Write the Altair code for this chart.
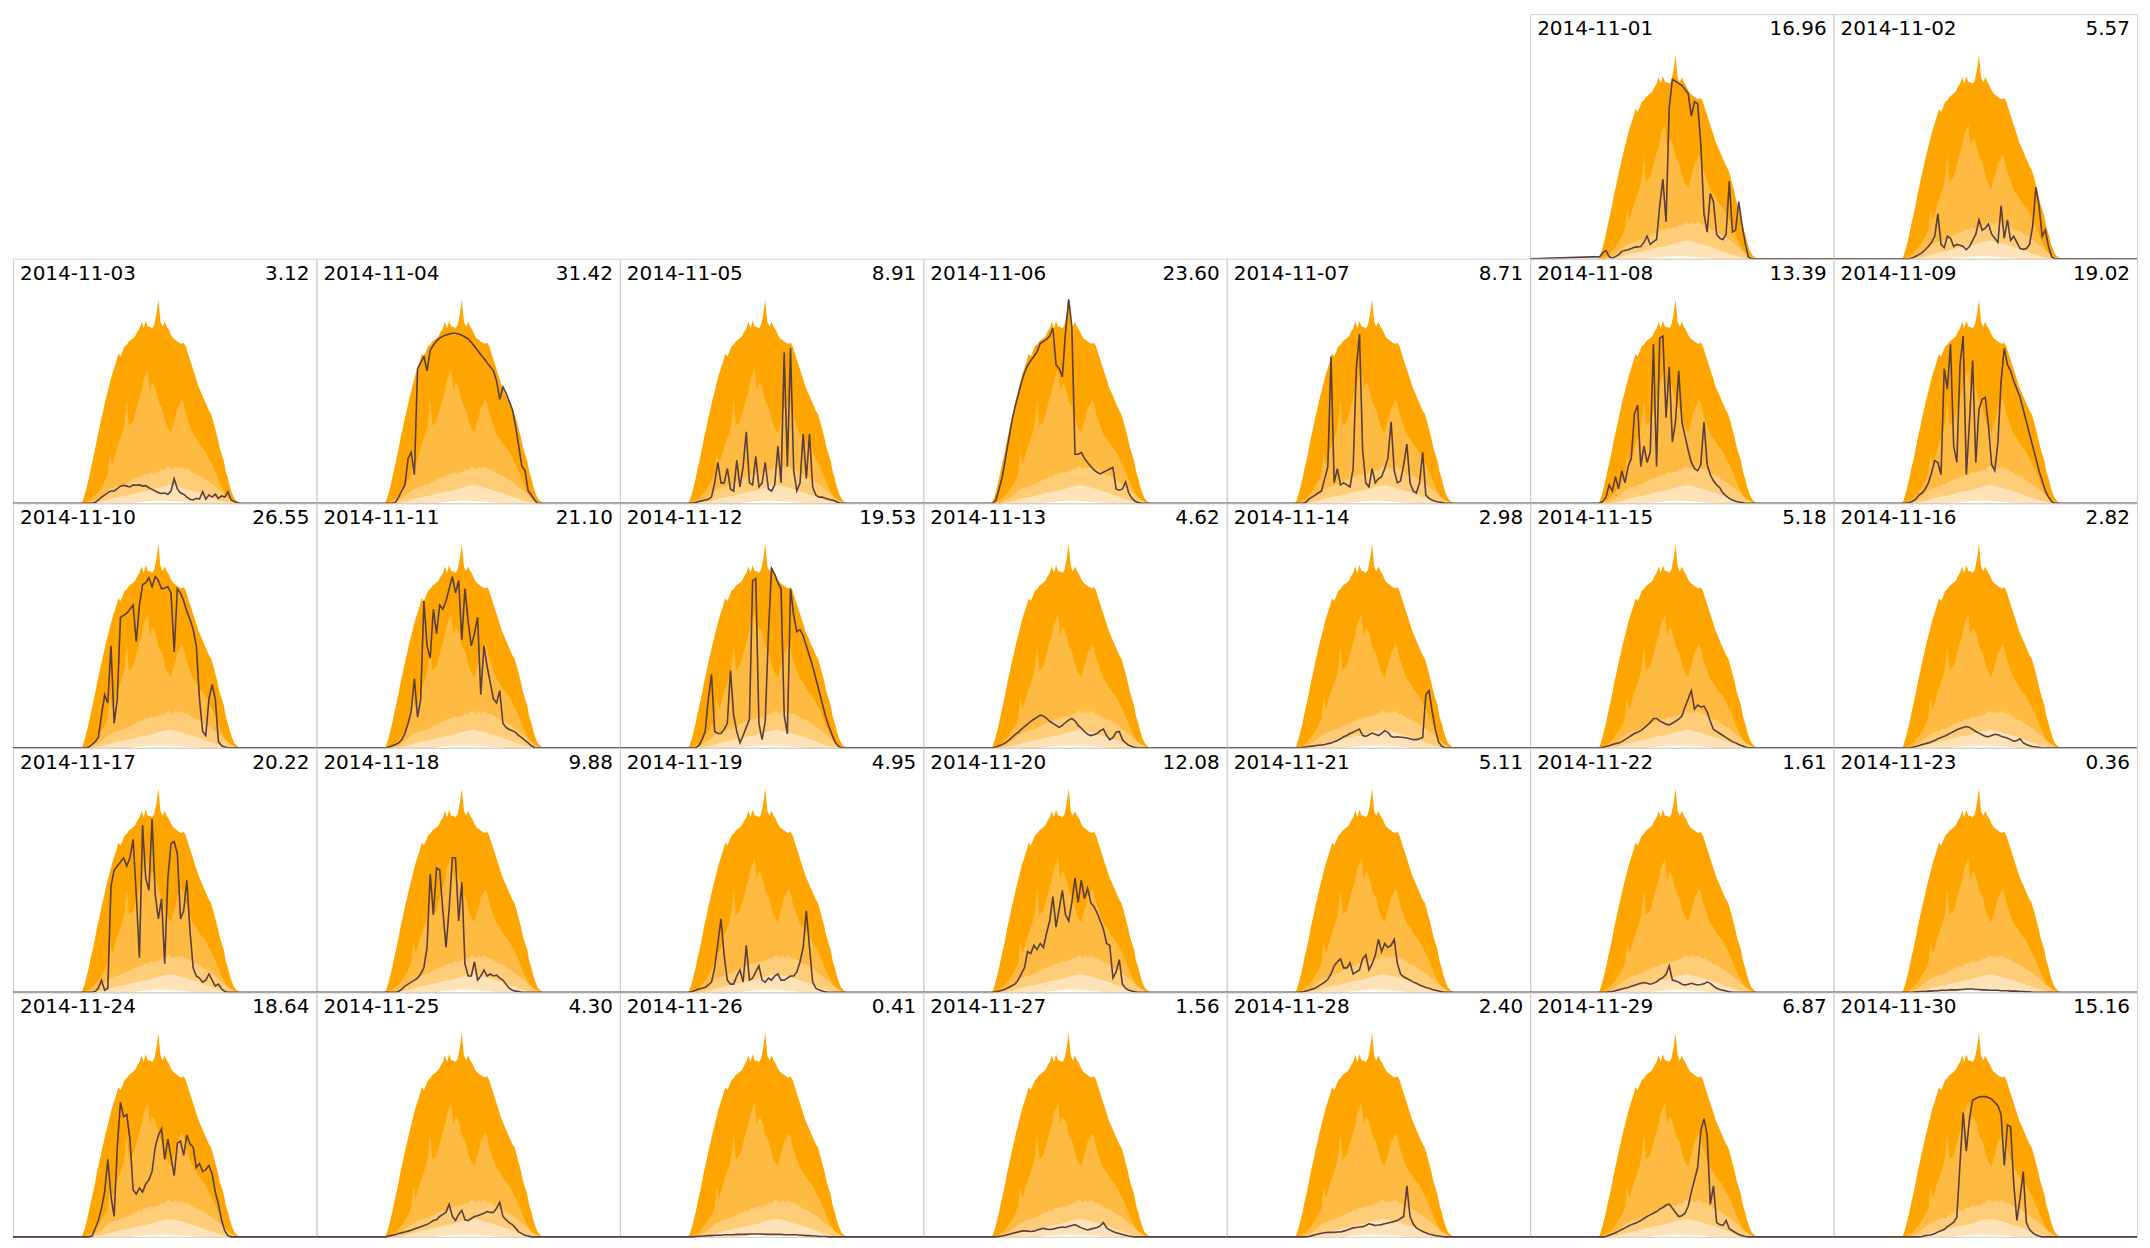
import numpy as np
import pandas as pd
import altair as alt

# ---------------- labels ----------------
DATES = ["2014-11-%02d" % d for d in range(1, 31)]
TOTALS = [16.96, 5.57, 3.12, 31.42, 8.91, 23.60, 8.71, 13.39, 19.02, 26.55,
          21.10, 19.53, 4.62, 2.98, 5.18, 2.82, 20.22, 9.88, 4.95, 12.08,
          5.11, 1.61, 0.36, 18.64, 4.30, 0.41, 1.56, 2.40, 6.87, 15.16]

# ---------------- envelope (kW, every 10 min from 05:00) ----------------
ENV_START = 5.0
ENV_STEP = 1.0 / 6.0
ENV_MAX = [0, 0, 0, 0.04, 0.2, 0.4,
           0.61, 0.87, 1.09, 1.34, 1.62, 1.84,
           2.1, 2.31, 2.55, 2.75, 2.96, 3.16,
           3.32, 3.48, 3.67, 3.6, 3.72, 3.85,
           3.89, 3.97, 4.01, 4.05, 4.1, 4.21,
           4.29, 4.45, 4.29, 4.48, 4.33, 4.33,
           4.29, 4.37, 4.62, 5.0, 4.45, 4.33,
           4.45, 4.33, 4.25, 4.13, 4.05, 4.01,
           3.97, 3.93, 3.91, 3.94, 3.85, 3.68,
           3.52, 3.36, 3.2, 3.04, 2.87, 2.75,
           2.63, 2.51, 2.39, 2.27, 2.19, 2.02,
           1.82, 1.62, 1.38, 1.21, 1.05, 0.77,
           0.61, 0.4, 0.24, 0.12, 0.06, 0.02,
           0, 0, 0]
ENV_Q90 = [0, 0, 0, 0, 0.02, 0.04,
           0.07, 0.1, 0.14, 0.2, 0.26, 0.33,
           0.42, 0.5, 0.6, 0.72, 1.25, 0.95,
           1.1, 1.3, 1.45, 1.6, 1.75, 2.0,
           2.55, 1.9, 1.95, 2.0, 2.2, 2.4,
           2.6, 2.75, 3.05, 3.15, 3.3, 2.75,
           2.95, 2.9, 2.75, 2.5, 2.4, 2.3,
           2.05, 1.9, 1.8, 1.72, 1.95, 2.1,
           2.35, 2.4, 2.55, 2.45, 2.2, 2.05,
           1.9, 1.75, 1.65, 1.6, 1.5, 1.42,
           1.35, 1.3, 1.2, 1.1, 1.0, 0.9,
           0.78, 0.65, 0.52, 0.4, 0.3, 0.2,
           0.12, 0.06, 0.02, 0, 0, 0,
           0, 0, 0]
ENV_Q75 = [0, 0, 0, 0, 0, 0,
           0.01, 0.02, 0.04, 0.07, 0.1, 0.14,
           0.18, 0.22, 0.26, 0.3, 0.34, 0.36,
           0.38, 0.42, 0.4, 0.44, 0.47, 0.45,
           0.5, 0.52, 0.55, 0.58, 0.6, 0.62,
           0.66, 0.63, 0.7, 0.72, 0.7, 0.74,
           0.76, 0.73, 0.78, 0.76, 0.8, 0.83,
           0.81, 0.88, 0.92, 0.86, 0.84, 0.9,
           0.85, 0.88, 0.9, 0.86, 0.82, 0.84,
           0.78, 0.76, 0.72, 0.7, 0.68, 0.66,
           0.62, 0.58, 0.56, 0.52, 0.48, 0.45,
           0.4, 0.36, 0.32, 0.28, 0.23, 0.18,
           0.14, 0.1, 0.07, 0.04, 0.02, 0.01,
           0, 0, 0]
ENV_Q50 = [0, 0, 0, 0, 0, 0,
           0, 0, 0.01, 0.01, 0.02, 0.03,
           0.04, 0.05, 0.07, 0.08, 0.1, 0.12,
           0.13, 0.14, 0.15, 0.16, 0.18, 0.17,
           0.19, 0.21, 0.22, 0.23, 0.24, 0.26,
           0.27, 0.28, 0.3, 0.29, 0.31, 0.32,
           0.33, 0.35, 0.37, 0.38, 0.4, 0.41,
           0.42, 0.43, 0.44, 0.44, 0.43, 0.42,
           0.4, 0.39, 0.38, 0.36, 0.35, 0.33,
           0.31, 0.3, 0.28, 0.27, 0.25, 0.23,
           0.21, 0.19, 0.17, 0.16, 0.14, 0.12,
           0.1, 0.08, 0.07, 0.05, 0.04, 0.03,
           0.02, 0.01, 0, 0, 0, 0,
           0, 0, 0]
ENV_Q25 = [0, 0, 0, 0, 0, 0,
           0, 0, 0, 0, 0, 0,
           0, 0, 0, 0, 0, 0,
           0, 0, 0, 0, 0, 0,
           0, 0, 0, 0.01, 0.02, 0.02,
           0.03, 0.03, 0.04, 0.04, 0.05, 0.05,
           0.05, 0.06, 0.06, 0.06, 0.06, 0.06,
           0.06, 0.06, 0.05, 0.05, 0.05, 0.05,
           0.04, 0.04, 0.04, 0.03, 0.03, 0.02,
           0.02, 0.01, 0.01, 0, 0, 0,
           0, 0, 0, 0, 0, 0,
           0, 0, 0, 0, 0, 0,
           0, 0, 0, 0, 0, 0,
           0, 0, 0]

# ---------------- daily production (kW, every 15 min, 05:30 .. 18:00) ----------------
LINE_START = 5.5
LINE_STEP = 0.25
D01 = [0.05, 0.15,
       0.2, 0.05, 0.02, 0.05, 0.1, 0.18, 0.2, 0.22, 0.25, 0.28, 0.29, 0.3,
       0.4, 0.55, 0.35, 0.42, 0.47, 1.3, 1.95, 0.9, 3.7, 4.4, 4.35, 4.3,
       4.25, 4.15, 4.05, 3.5, 3.85, 3.8, 2.8, 1.1, 0.65, 1.6, 1.4, 0.6,
       0.5, 0.47, 0.6, 1.9, 0.65, 0.7, 1.4, 0.85, 0.4, 0.05, 0, 0,
       0]
D02 = [0, 0,
       0, 0.02, 0.06, 0.1, 0.15, 0.22, 0.3, 0.4, 0.55, 1.1, 0.35, 0.27,
       0.55, 0.5, 0.3, 0.35, 0.33, 0.3, 0.22, 0.3, 0.45, 0.6, 0.95, 0.7,
       0.75, 0.85, 0.6, 0.5, 0.4, 1.3, 0.5, 0.95, 0.45, 0.55, 0.4, 0.25,
       0.23, 0.25, 0.35, 0.8, 1.75, 1.3, 0.55, 0.7, 0.3, 0.05, 0, 0,
       0]
D03 = [0, 0,
       0, 0, 0.02, 0.08, 0.15, 0.2, 0.26, 0.3, 0.3, 0.36, 0.42, 0.44,
       0.42, 0.4, 0.45, 0.44, 0.45, 0.42, 0.43, 0.38, 0.34, 0.3, 0.26, 0.24,
       0.25, 0.22, 0.3, 0.6, 0.35, 0.25, 0.22, 0.15, 0.1, 0.08, 0.12, 0.1,
       0.28, 0.1, 0.2, 0.15, 0.22, 0.12, 0.18, 0.15, 0.28, 0.08, 0.04, 0.01,
       0]
D04 = [0, 0,
       0, 0.02, 0.15, 0.3, 0.45, 1.1, 1.25, 0.7, 3.3, 3.45, 3.6, 3.25,
       3.75, 3.88, 3.98, 4.05, 4.1, 4.13, 4.15, 4.17, 4.17, 4.15, 4.12, 4.08,
       4.03, 3.95, 3.85, 3.75, 3.65, 3.55, 3.45, 3.35, 3.25, 3.0, 2.55, 2.85,
       2.7, 2.5, 2.3, 1.9, 1.4, 0.9, 0.8, 0.3, 0.2, 0.08, 0, 0,
       0]
D05 = [0, 0,
       0.02, 0.04, 0.06, 0.08, 0.1, 0.15, 0.5, 1.0, 0.5, 0.5, 0.85, 0.35,
       0.3, 1.05, 0.4, 0.9, 1.75, 0.5, 0.45, 1.15, 0.4, 0.5, 1.0, 0.35,
       0.3, 0.45, 1.4, 0.5, 3.7, 0.9, 3.8, 0.8, 0.3, 0.5, 1.7, 0.6,
       1.7, 0.4, 0.2, 0.15, 0.15, 0.12, 0.1, 0.08, 0.06, 0.02, 0, 0,
       0]
D06 = [0, 0.08,
       0.35, 0.65, 1.1, 1.55, 2.0, 2.35, 2.65, 2.95, 3.2, 3.38, 3.5, 3.6,
       3.72, 3.92, 3.97, 4.02, 4.1, 4.3, 3.4, 3.3, 3.1, 4.2, 5.0, 4.35,
       1.2, 1.2, 1.25, 1.1, 1.0, 0.9, 0.82, 0.76, 0.72, 0.76, 0.8, 0.84,
       0.88, 0.35, 0.32, 0.35, 0.52, 0.25, 0.12, 0.05, 0.02, 0, 0, 0,
       0]
D07 = [0, 0,
       0, 0.02, 0.1, 0.15, 0.2, 0.25, 0.3, 0.6, 0.9, 3.6, 0.5, 0.85,
       0.45, 0.5, 0.45, 0.4, 0.85, 3.3, 4.15, 1.3, 0.5, 0.4, 0.85, 0.5,
       0.6, 0.65, 0.85, 1.1, 2.0, 0.8, 0.5, 0.55, 0.95, 1.45, 0.5, 0.3,
       0.25, 0.5, 1.25, 0.2, 0.12, 0.08, 0.05, 0.03, 0.02, 0, 0, 0,
       0]
D08 = [0, 0.05,
       0.15, 0.45, 0.3, 0.65, 0.35, 0.8, 0.5, 0.9, 1.1, 2.2, 2.4, 0.9,
       1.4, 1.0, 1.25, 3.9, 0.9, 4.05, 4.1, 2.1, 3.35, 1.5, 2.0, 3.25,
       2.0, 1.65, 1.3, 1.0, 0.85, 0.8, 0.95, 2.0, 0.95, 0.7, 0.55, 0.45,
       0.38, 0.25, 0.18, 0.12, 0.08, 0.05, 0.03, 0.02, 0, 0, 0, 0,
       0]
D09 = [0, 0,
       0.02, 0.05, 0.1, 0.2, 0.25, 0.35, 0.5, 0.75, 1.05, 1.0, 0.7, 3.3,
       2.8, 3.9, 1.4, 1.0, 3.4, 4.1, 0.7, 2.0, 3.5, 1.0, 2.3, 2.55,
       2.6, 1.9, 0.95, 0.8, 1.5, 3.0, 3.8, 3.4, 3.25, 3.0, 2.8, 2.6,
       2.3, 2.0, 1.7, 1.4, 1.1, 0.8, 0.55, 0.3, 0.15, 0.04, 0, 0,
       0]
D10 = [0, 0,
       0.02, 0.08, 0.15, 0.25, 0.8, 1.3, 1.1, 2.5, 0.6, 1.2, 3.2, 3.25,
       3.3, 3.4, 3.5, 2.6, 3.5, 4.0, 4.05, 4.17, 3.95, 4.2, 4.1, 3.9,
       3.92, 3.95, 3.8, 2.35, 3.9, 3.8, 3.6, 3.35, 3.15, 2.9, 2.5, 1.2,
       0.4, 0.3, 1.2, 1.55, 1.2, 0.15, 0.05, 0.02, 0, 0, 0, 0,
       0]
D11 = [0, 0.02,
       0.05, 0.08, 0.12, 0.2, 0.35, 0.6, 0.9, 1.7, 0.75, 1.2, 3.6, 2.5,
       2.2, 3.4, 2.8, 3.5, 3.4, 3.6, 3.9, 4.2, 3.8, 4.1, 2.65, 3.9,
       3.1, 2.5, 2.8, 3.2, 1.3, 2.5, 2.0, 1.6, 1.2, 1.1, 1.4, 0.6,
       0.5, 0.45, 0.42, 0.38, 0.3, 0.25, 0.18, 0.12, 0.05, 0, 0, 0,
       0]
D12 = [0, 0,
       0, 0.05, 0.2, 0.4, 1.2, 1.8, 0.4, 0.35, 0.35, 0.45, 0.6, 1.9,
       0.8, 0.4, 0.12, 0.3, 0.5, 0.7, 4.1, 4.15, 0.6, 0.2, 0.65, 2.8,
       4.4, 4.25, 4.05, 3.9, 0.8, 0.34, 3.9, 3.25, 2.85, 2.9, 2.75, 2.5,
       2.25, 2.0, 1.7, 1.4, 1.1, 0.8, 0.55, 0.35, 0.15, 0.05, 0, 0,
       0]
D13 = [0, 0.02,
       0.05, 0.08, 0.12, 0.18, 0.25, 0.32, 0.38, 0.45, 0.52, 0.58, 0.65, 0.7,
       0.75, 0.8, 0.78, 0.72, 0.65, 0.6, 0.55, 0.5, 0.55, 0.62, 0.68, 0.72,
       0.66, 0.55, 0.48, 0.4, 0.33, 0.3, 0.32, 0.35, 0.42, 0.46, 0.3, 0.2,
       0.25, 0.38, 0.4, 0.2, 0.12, 0.06, 0.03, 0.01, 0, 0, 0, 0,
       0]
D14 = [0, 0,
       0.01, 0.02, 0.03, 0.04, 0.05, 0.06, 0.07, 0.08, 0.1, 0.12, 0.15, 0.18,
       0.22, 0.27, 0.3, 0.35, 0.38, 0.42, 0.46, 0.3, 0.28, 0.32, 0.36, 0.33,
       0.3, 0.35, 0.42, 0.38, 0.28, 0.26, 0.27, 0.26, 0.25, 0.24, 0.22, 0.2,
       0.2, 0.22, 0.25, 1.3, 1.4, 0.9, 0.45, 0.15, 0.04, 0, 0, 0,
       0]
D15 = [0, 0.01,
       0.03, 0.05, 0.08, 0.1, 0.12, 0.15, 0.2, 0.25, 0.3, 0.35, 0.38, 0.42,
       0.48, 0.55, 0.62, 0.72, 0.72, 0.66, 0.62, 0.58, 0.56, 0.6, 0.65, 0.7,
       0.78, 1.0, 1.2, 1.4, 0.95, 1.05, 1.0, 1.02, 0.88, 0.65, 0.45, 0.4,
       0.35, 0.3, 0.25, 0.2, 0.15, 0.12, 0.08, 0.05, 0.02, 0, 0, 0,
       0]
D16 = [0, 0,
       0, 0.01, 0.03, 0.05, 0.08, 0.1, 0.12, 0.15, 0.18, 0.22, 0.25, 0.28,
       0.32, 0.36, 0.4, 0.44, 0.47, 0.5, 0.52, 0.5, 0.45, 0.4, 0.36, 0.32,
       0.28, 0.27, 0.3, 0.33, 0.32, 0.28, 0.26, 0.24, 0.2, 0.16, 0.18, 0.22,
       0.12, 0.08, 0.05, 0.03, 0.02, 0.01, 0, 0, 0, 0, 0, 0,
       0]
D17 = [0, 0,
       0, 0, 0.02, 0.1, 0.3, 0.05, 0.1, 2.6, 3.0, 3.1, 3.2, 3.3,
       3.1, 3.3, 3.75, 2.4, 0.85, 4.1, 2.8, 2.5, 4.25, 2.4, 1.8, 2.3,
       0.7, 2.8, 3.65, 3.7, 3.4, 1.8, 2.0, 2.75, 1.5, 0.6, 0.4, 0.35,
       0.25, 0.3, 0.45, 0.3, 0.15, 0.2, 0.08, 0.02, 0, 0, 0, 0,
       0]
D18 = [0, 0,
       0, 0, 0.02, 0.08, 0.15, 0.2, 0.25, 0.3, 0.35, 0.45, 0.6, 1.1,
       2.9, 1.9, 3.05, 3.0, 2.0, 1.1, 2.05, 3.3, 3.3, 1.75, 2.7, 0.7,
       0.4, 0.4, 0.75, 0.3, 0.4, 0.55, 0.4, 0.45, 0.4, 0.42, 0.35, 0.3,
       0.2, 0.1, 0.05, 0.03, 0.02, 0, 0, 0, 0, 0, 0, 0,
       0]
D19 = [0, 0.02,
       0.05, 0.08, 0.1, 0.12, 0.18, 0.25, 0.6, 1.2, 1.8, 0.9, 0.3, 0.2,
       0.2, 0.4, 0.55, 0.25, 1.15, 0.3, 0.35, 0.5, 0.65, 0.3, 0.25, 0.35,
       0.3, 0.4, 0.45, 0.3, 0.3, 0.35, 0.4, 0.4, 0.5, 0.75, 1.1, 2.0,
       1.1, 0.25, 0.1, 0.06, 0.03, 0.01, 0, 0, 0, 0, 0, 0,
       0]
D20 = [0, 0.01,
       0.03, 0.05, 0.08, 0.12, 0.16, 0.2, 0.3, 0.45, 0.6, 1.0, 0.95, 1.15,
       1.05, 1.2, 1.1, 1.45, 1.75, 2.35, 1.6, 2.05, 2.5, 1.9, 1.75, 2.2,
       2.8, 2.2, 2.75, 2.3, 2.55, 2.2, 2.1, 1.95, 1.75, 1.55, 1.2, 1.15,
       0.35, 0.5, 0.8, 0.2, 0.1, 0.05, 0.03, 0.01, 0, 0, 0, 0,
       0]
D21 = [0, 0,
       0.01, 0.03, 0.05, 0.08, 0.1, 0.15, 0.2, 0.25, 0.32, 0.45, 0.65, 0.75,
       0.82, 0.6, 0.6, 0.72, 0.45, 0.5, 0.55, 0.82, 0.92, 0.55, 0.7, 0.9,
       1.3, 1.0, 1.2, 1.1, 1.15, 1.3, 0.7, 0.45, 0.38, 0.34, 0.3, 0.25,
       0.22, 0.18, 0.15, 0.12, 0.1, 0.07, 0.05, 0.03, 0.01, 0, 0, 0,
       0]
D22 = [0, 0,
       0, 0.01, 0.02, 0.04, 0.06, 0.08, 0.1, 0.12, 0.15, 0.17, 0.2, 0.22,
       0.24, 0.22, 0.2, 0.22, 0.26, 0.32, 0.36, 0.44, 0.65, 0.3, 0.28, 0.25,
       0.2, 0.18, 0.2, 0.22, 0.2, 0.18, 0.19, 0.21, 0.25, 0.22, 0.15, 0.1,
       0.07, 0.05, 0.03, 0.01, 0, 0, 0, 0, 0, 0, 0, 0,
       0]
D23 = [0, 0,
       0, 0, 0.01, 0.01, 0.02, 0.02, 0.03, 0.03, 0.04, 0.04, 0.05, 0.05,
       0.05, 0.06, 0.06, 0.06, 0.07, 0.07, 0.08, 0.08, 0.08, 0.07, 0.07, 0.06,
       0.06, 0.05, 0.05, 0.05, 0.05, 0.04, 0.04, 0.04, 0.03, 0.03, 0.03, 0.02,
       0.02, 0.01, 0.01, 0, 0, 0, 0, 0, 0, 0, 0, 0,
       0]
D24 = [0, 0,
       0, 0.02, 0.2, 0.4, 0.7, 1.1, 1.9, 1.0, 0.5, 2.2, 3.3, 2.95,
       3.0, 2.4, 1.15, 1.05, 1.2, 1.1, 1.3, 1.4, 1.6, 2.2, 2.5, 2.65,
       1.9, 2.4, 1.95, 1.5, 2.3, 2.35, 2.0, 2.5, 2.28, 2.2, 1.7, 1.8,
       1.6, 1.65, 1.75, 1.55, 1.1, 0.8, 0.4, 0.15, 0.03, 0, 0, 0,
       0]
D25 = [0, 0.02,
       0.04, 0.06, 0.08, 0.1, 0.12, 0.14, 0.16, 0.2, 0.22, 0.25, 0.28, 0.3,
       0.35, 0.4, 0.42, 0.5, 0.55, 0.6, 0.8, 0.5, 0.4, 0.55, 0.65, 0.42,
       0.4, 0.45, 0.5, 0.52, 0.55, 0.58, 0.62, 0.6, 0.6, 0.7, 0.85, 0.5,
       0.42, 0.35, 0.3, 0.22, 0.12, 0.08, 0.04, 0.02, 0, 0, 0, 0,
       0]
D26 = [0, 0,
       0.01, 0.01, 0.02, 0.02, 0.03, 0.03, 0.04, 0.04, 0.04, 0.05, 0.05, 0.05,
       0.05, 0.06, 0.06, 0.06, 0.06, 0.07, 0.07, 0.07, 0.07, 0.07, 0.06, 0.06,
       0.06, 0.06, 0.06, 0.06, 0.05, 0.05, 0.05, 0.05, 0.05, 0.04, 0.04, 0.03,
       0.03, 0.02, 0.02, 0.01, 0.01, 0.01, 0, 0, 0, 0, 0, 0,
       0]
D27 = [0, 0,
       0.01, 0.02, 0.04, 0.06, 0.08, 0.1, 0.12, 0.14, 0.15, 0.14, 0.13, 0.14,
       0.17, 0.19, 0.21, 0.19, 0.18, 0.19, 0.21, 0.23, 0.24, 0.23, 0.26, 0.28,
       0.3, 0.26, 0.22, 0.19, 0.17, 0.19, 0.21, 0.23, 0.27, 0.35, 0.22, 0.17,
       0.13, 0.1, 0.08, 0.06, 0.04, 0.02, 0.01, 0, 0, 0, 0, 0,
       0]
D28 = [0, 0,
       0, 0, 0.01, 0.03, 0.05, 0.07, 0.09, 0.1, 0.11, 0.11, 0.11, 0.12,
       0.12, 0.14, 0.16, 0.19, 0.22, 0.23, 0.24, 0.25, 0.28, 0.32, 0.3, 0.28,
       0.29, 0.3, 0.32, 0.34, 0.36, 0.38, 0.4, 0.45, 0.5, 1.25, 0.5, 0.32,
       0.22, 0.17, 0.13, 0.1, 0.07, 0.05, 0.03, 0.02, 0.01, 0, 0, 0,
       0]
D29 = [0, 0,
       0.01, 0.04, 0.07, 0.1, 0.14, 0.18, 0.22, 0.26, 0.3, 0.33, 0.36, 0.4,
       0.45, 0.5, 0.54, 0.58, 0.62, 0.68, 0.72, 0.78, 0.8, 0.7, 0.6, 0.5,
       0.52, 0.58, 0.75, 1.1, 1.4, 1.7, 2.6, 2.9, 2.5, 0.8, 1.25, 0.35,
       0.3, 0.28, 0.4, 0.2, 0.15, 0.1, 0.06, 0.03, 0.01, 0, 0, 0,
       0]
D30 = [0, 0,
       0, 0, 0, 0, 0.01, 0.03, 0.04, 0.05, 0.08, 0.12, 0.15, 0.18,
       0.25, 0.3, 0.36, 0.48, 1.8, 3.05, 2.1, 2.9, 3.35, 3.4, 3.43, 3.44,
       3.44, 3.42, 3.38, 3.3, 3.22, 3.0, 1.75, 2.75, 2.7, 1.3, 0.4, 0.95,
       1.6, 0.35, 0.18, 0.1, 0.05, 0.02, 0, 0, 0, 0, 0, 0,
       0]

DAYS = [D01, D02, D03, D04, D05, D06, D07, D08, D09, D10,
        D11, D12, D13, D14, D15, D16, D17, D18, D19, D20,
        D21, D22, D23, D24, D25, D26, D27, D28, D29, D30]

# ---------------- styling ----------------
BAND_COLORS = ["#FFA500", "#FFBA42", "#FFCC77", "#FFE3B8", "#FFFDF8"]
LINE_COLOR = "#5a3d3d"
BORDER = "#cfcfcf"
PANEL_W = 304
PANEL_H = 245
FONT = "DejaVu Sans"
FONT_SIZE = 20

# ---------------- build table ----------------
env_hours = ENV_START + ENV_STEP * np.arange(len(ENV_MAX))
line_hours = LINE_START + LINE_STEP * np.arange(len(D01))
first_wd = pd.Timestamp(DATES[0]).weekday()

rows = []
for date, total, vals in zip(DATES, TOTALS, DAYS):
    assert len(vals) == len(D01), date
    for h, a, b, c, d, e in zip(env_hours, ENV_MAX, ENV_Q90, ENV_Q75, ENV_Q50, ENV_Q25):
        rows.append(dict(date=date, kind="env", hour=float(h), b1=a, b2=b, b3=c, b4=d, b5=e))
    hrs = [0.0] + [float(h) for h in line_hours] + [24.0]
    pw = [0.0] + list(vals) + [0.0]
    for h, v in zip(hrs, pw):
        rows.append(dict(date=date, kind="line", hour=h, power=v))
    rows.append(dict(date=date, kind="label", total=total))
df = pd.DataFrame(rows)

xs = alt.X("hour:Q", scale=alt.Scale(domain=[0, 24], nice=False, zero=False), axis=None)
yscale = alt.Scale(domain=[0, 6], nice=False)


def day_panel(date):
    sel = alt.datum.date == date
    layers = []
    for col, color in zip(["b1", "b2", "b3", "b4", "b5"], BAND_COLORS):
        layers.append(
            alt.Chart().mark_area(color=color, opacity=1, interpolate="linear")
            .encode(x=xs, y=alt.Y(f"{col}:Q", scale=yscale, axis=None))
            .transform_filter(sel & (alt.datum.kind == "env"))
        )
    layers.append(
        alt.Chart().mark_line(color=LINE_COLOR, strokeWidth=1.6)
        .encode(x=xs, y=alt.Y("power:Q", scale=yscale, axis=None))
        .transform_filter(sel & (alt.datum.kind == "line"))
    )
    layers.append(
        alt.Chart().mark_text(align="left", baseline="alphabetic", fontSize=FONT_SIZE,
                              font=FONT, color="black")
        .encode(x=alt.value(7), y=alt.value(21), text="date:N")
        .transform_filter(sel & (alt.datum.kind == "label"))
    )
    layers.append(
        alt.Chart().mark_text(align="right", baseline="alphabetic", fontSize=FONT_SIZE,
                              font=FONT, color="black")
        .encode(x=alt.value(PANEL_W - 7), y=alt.value(21),
                text=alt.Text("total:Q", format=".2f"))
        .transform_filter(sel & (alt.datum.kind == "label"))
    )
    return alt.layer(*layers).properties(
        width=PANEL_W, height=PANEL_H,
        view=alt.ViewBackground(stroke=BORDER, strokeWidth=1),
    )


def blank_panel():
    return (
        alt.Chart().mark_point(opacity=0)
        .encode(x=alt.value(0), y=alt.value(0))
        .transform_filter((alt.datum.kind == "label") & (alt.datum.date == DATES[0]))
        .properties(width=PANEL_W, height=PANEL_H,
                    view=alt.ViewBackground(stroke="transparent"))
    )


panels = [blank_panel() for _ in range(first_wd)] + [day_panel(d) for d in DATES]

chart = (
    alt.concat(*panels, columns=7, data=df, spacing=0, bounds="flush")
    .properties(padding={"left": 1, "top": 1, "right": 1, "bottom": 1}, background="white")
)

chart.save("out.html", embed_options={"renderer": "svg", "actions": False})
